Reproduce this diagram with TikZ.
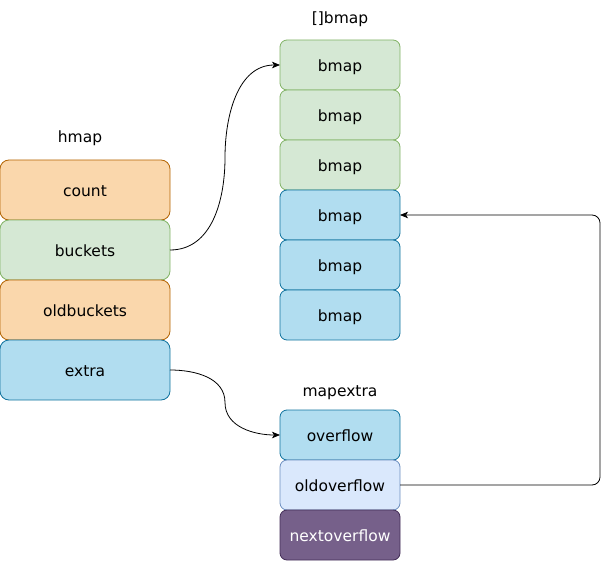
\documentclass[tikz,border=0pt]{standalone}
\usepackage{fontspec}
\setmainfont{DejaVu Sans}
\usepackage{tikz}
\usetikzlibrary{arrows,arrows.meta,positioning,calc}
\definecolor{orangeF}{HTML}{FAD7AC}
\definecolor{orangeD}{HTML}{B46504}
\definecolor{gruenF}{HTML}{D5E8D4}
\definecolor{gruenD}{HTML}{82B366}
\definecolor{blauF}{HTML}{B1DDF0}
\definecolor{blauD}{HTML}{10739E}
\definecolor{hblauF}{HTML}{DAE8FC}
\definecolor{hblauD}{HTML}{6C8EBF}
\definecolor{lilaF}{HTML}{76608A}
\definecolor{lilaD}{HTML}{432D57}
\tikzset{
  feld/.style={draw, line width=0.8pt, inner sep=0pt, outer sep=0pt, text height=13.5pt, text depth=0pt, font=\fontsize{15.5}{18}\selectfont},
  hfeld/.style={feld, minimum width=170pt, minimum height=60pt, rounded corners=9pt},
  bfeld/.style={feld, minimum width=120pt, minimum height=50pt, rounded corners=7pt},
  titel/.style={font=\fontsize{15.5}{18}\selectfont},
  pfeil/.style={-{Stealth[length=8pt,width=6.5pt,inset=2pt]}, line width=0.8pt}
}
\begin{document}
\begin{tikzpicture}[x=1pt,y=-1pt]
\useasboundingbox (0,0) rectangle (609,561);
%hmap links
\node[hfeld, fill=orangeF, draw=orangeD] (count) at (85,190) {count};
\node[hfeld, fill=gruenF, draw=gruenD, below=0pt of count] (buckets) {buckets};
\node[hfeld, fill=orangeF, draw=orangeD, below=0pt of buckets] (oldbuckets) {oldbuckets};
\node[hfeld, fill=blauF, draw=blauD, below=0pt of oldbuckets] (extra) {extra};
\node[titel] (hmap) at (80,138) {hmap};
%[]bmap Mitte, 3 gruen und 3 blau
\foreach \i/\f in {1/gruen,2/gruen,3/gruen,4/blau,5/blau,6/blau}{
\node[bfeld, fill=\f F, draw=\f D] (bmap\i) at (340,15+50*\i) {bmap};
}
\node[titel] (bmaptitel) at (340,19) {[]bmap};
%mapextra unten
\node[bfeld, fill=blauF, draw=blauD] (overflow) at (340,435) {overflow};
\node[bfeld, fill=hblauF, draw=hblauD, below=0pt of overflow] (oldoverflow) {oldoverflow};
\node[bfeld, fill=lilaF, draw=lilaD, text=white, below=0pt of oldoverflow] (nextoverflow) {nextoverflow};
\node[titel] (mapextra) at (340,393) {mapextra};
%Pfeile, Knick jeweils auf halbem Weg
\coordinate (knickA) at ($(buckets.east)!0.5!(bmap1.west)$);
\coordinate (knickB) at ($(extra.east)!0.5!(overflow.west)$);
\draw[pfeil] (buckets.east) to[out=0,in=-90] (knickA) to[out=90,in=180] (bmap1.west);
\draw[pfeil] (extra.east) to[out=0,in=90] (knickB) to[out=-90,in=180] (overflow.west);
\draw[pfeil, rounded corners=8pt] (oldoverflow.east) -- ++(200,0) |- (bmap4.east);
\end{tikzpicture}
\end{document}
